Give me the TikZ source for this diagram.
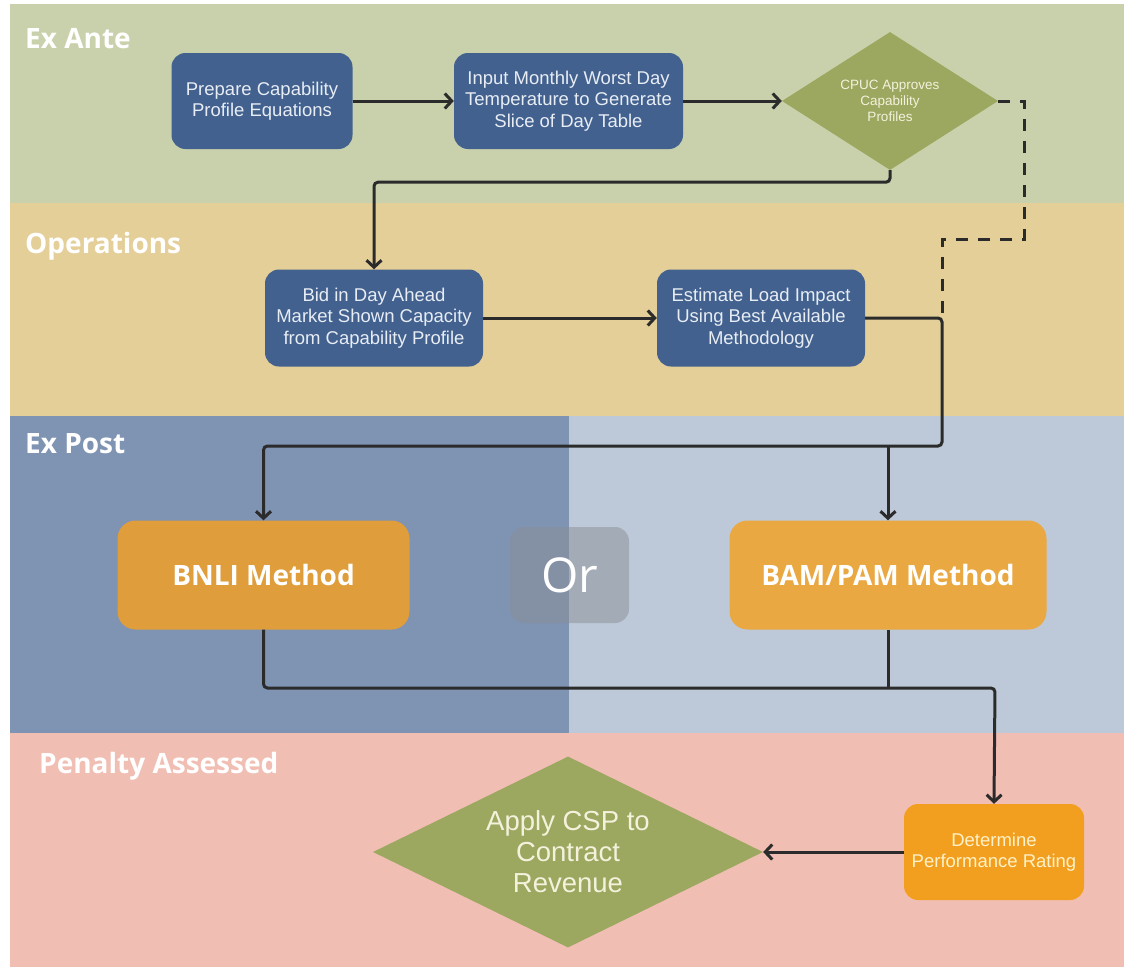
\documentclass[tikz,border=0pt]{standalone}
\usepackage{fontspec}
\setmainfont{Liberation Sans}
\newfontfamily\headfont{Open Sans}
\usetikzlibrary{shapes.geometric,arrows.meta}
\definecolor{exante}{HTML}{C9D1AC}
\definecolor{opsband}{HTML}{E4CF99}
\definecolor{postdark}{HTML}{7F93B3}
\definecolor{postlight}{HTML}{BDC9D8}
\definecolor{penband}{HTML}{F0BEB3}
\definecolor{boxblue}{HTML}{42618F}
\definecolor{boxtext}{HTML}{E8EDF4}
\definecolor{diagreen}{HTML}{9CA760}
\definecolor{diatext}{HTML}{F4F2DC}
\definecolor{bnliorange}{HTML}{DF9E3B}
\definecolor{bamorange}{HTML}{E9A842}
\definecolor{detorange}{HTML}{F29F1F}
\definecolor{dettext}{HTML}{FFF1C8}
\definecolor{orgray}{HTML}{8A8E96}
\definecolor{linecol}{HTML}{2B2B2B}
\begin{document}
\begin{tikzpicture}[x=1pt,y=-1pt,
    every node/.style={inner sep=0pt,align=center},
    lane/.style={anchor=base west,text=white,font=\headfont\bfseries\fontsize{28}{30}\selectfont},
    bluebox/.style={rectangle,rounded corners=14pt,fill=boxblue,text=boxtext,
                    font=\fontsize{18.5}{21.5}\selectfont},
    method/.style={rectangle,rounded corners=18pt,text=white,minimum height=109,
                   font=\headfont\bfseries\fontsize{28}{32}\selectfont},
    decide/.style={diamond,fill=diagreen,text=diatext},
    conn/.style={draw=linecol,line width=3pt,rounded corners=4pt},
    arr/.style={conn,-{Straight Barb[length=7pt,width=15pt]}},
    dashline/.style={draw=linecol,line width=3pt,dash pattern=on 12pt off 10pt}]
  \useasboundingbox (0,0) rectangle (1128,969);
  \fill[white] (0,0) rectangle (1128,969);
  \fill[exante] (10,4) rectangle (1124,203);
  \fill[opsband] (10,203) rectangle (1124,416);
  \fill[postdark] (10,416) rectangle (569,733);
  \fill[postlight] (569,416) rectangle (1124,733);
  \fill[penband] (10,733) rectangle (1124,967);

  \node[lane] (lexante) at (25,48) {Ex Ante};
  \node[lane] (lops) at (25,253) {Operations};
  \node[lane] (lpost) at (25,453) {Ex Post};
  \node[lane] (lpen) at (39,773) {Penalty Assessed};

  \node[bluebox,minimum width=181,minimum height=96] (prep) at (262,101)
       {Prepare Capability\\Profile Equations};
  \node[bluebox,minimum width=229,minimum height=96] (input) at (568.5,101)
       {Input Monthly Worst Day\\Temperature to Generate\\Slice of Day Table};
  \node[decide,aspect=1.57,minimum width=216,minimum height=138,
        font=\fontsize{13.5}{16}\selectfont] (cpuc) at (890,101)
       {CPUC Approves\\Capability\\Profiles};

  \node[bluebox,minimum width=218,minimum height=97] (bid) at (374,318)
       {Bid in Day Ahead\\Market Shown Capacity\\from Capability Profile};
  \node[bluebox,minimum width=208,minimum height=97] (est) at (761,318)
       {Estimate Load Impact\\Using Best Available\\Methodology};

  \node[method,fill=bnliorange,minimum width=292] (bnli) at (263.5,575) {BNLI Method};
  \node[rectangle,rounded corners=14pt,fill=orgray,fill opacity=0.5,text opacity=1,
        text=white,minimum width=119,minimum height=96,
        font=\headfont\fontsize{48}{50}\selectfont] (or) at (569.5,575) {Or};
  \node[method,fill=bamorange,minimum width=317] (bam) at (888,575) {BAM/PAM Method};

  \node[rectangle,rounded corners=14pt,fill=detorange,text=dettext,minimum width=180,
        minimum height=96,font=\fontsize{18.5}{21.5}\selectfont] (det) at (994,852)
       {Determine\\Performance Rating};
  \node[decide,aspect=2.04,minimum width=390,minimum height=191,
        font=\fontsize{27.5}{31}\selectfont] (apply) at (568,852)
       {Apply CSP to\\Contract\\Revenue};

  \coordinate (join) at (942,318);
  \coordinate (split) at (942,446);
  \coordinate (merge) at (995,688);

  \draw[arr] (prep) -- (input);
  \draw[arr] (input) -- (cpuc);
  \draw[arr] (cpuc.south) -- ++(0,12) -| (bid.north);
  \draw[dashline] (cpuc.east) -- ++(26,0) -- ++(0,138) -| (join);
  \draw[arr] (bid) -- (est);
  \draw[arr] (est.east) -- (join) -- (split) -| (bnli.north);
  \draw[arr] (bam.north |- split) -- (bam.north);
  \draw[arr] (bnli.south) |- (merge) -- (det.north);
  \draw[conn] (bam.south) -- (bam.south |- merge);
  \draw[arr] (det) -- (apply);
\end{tikzpicture}
\end{document}
